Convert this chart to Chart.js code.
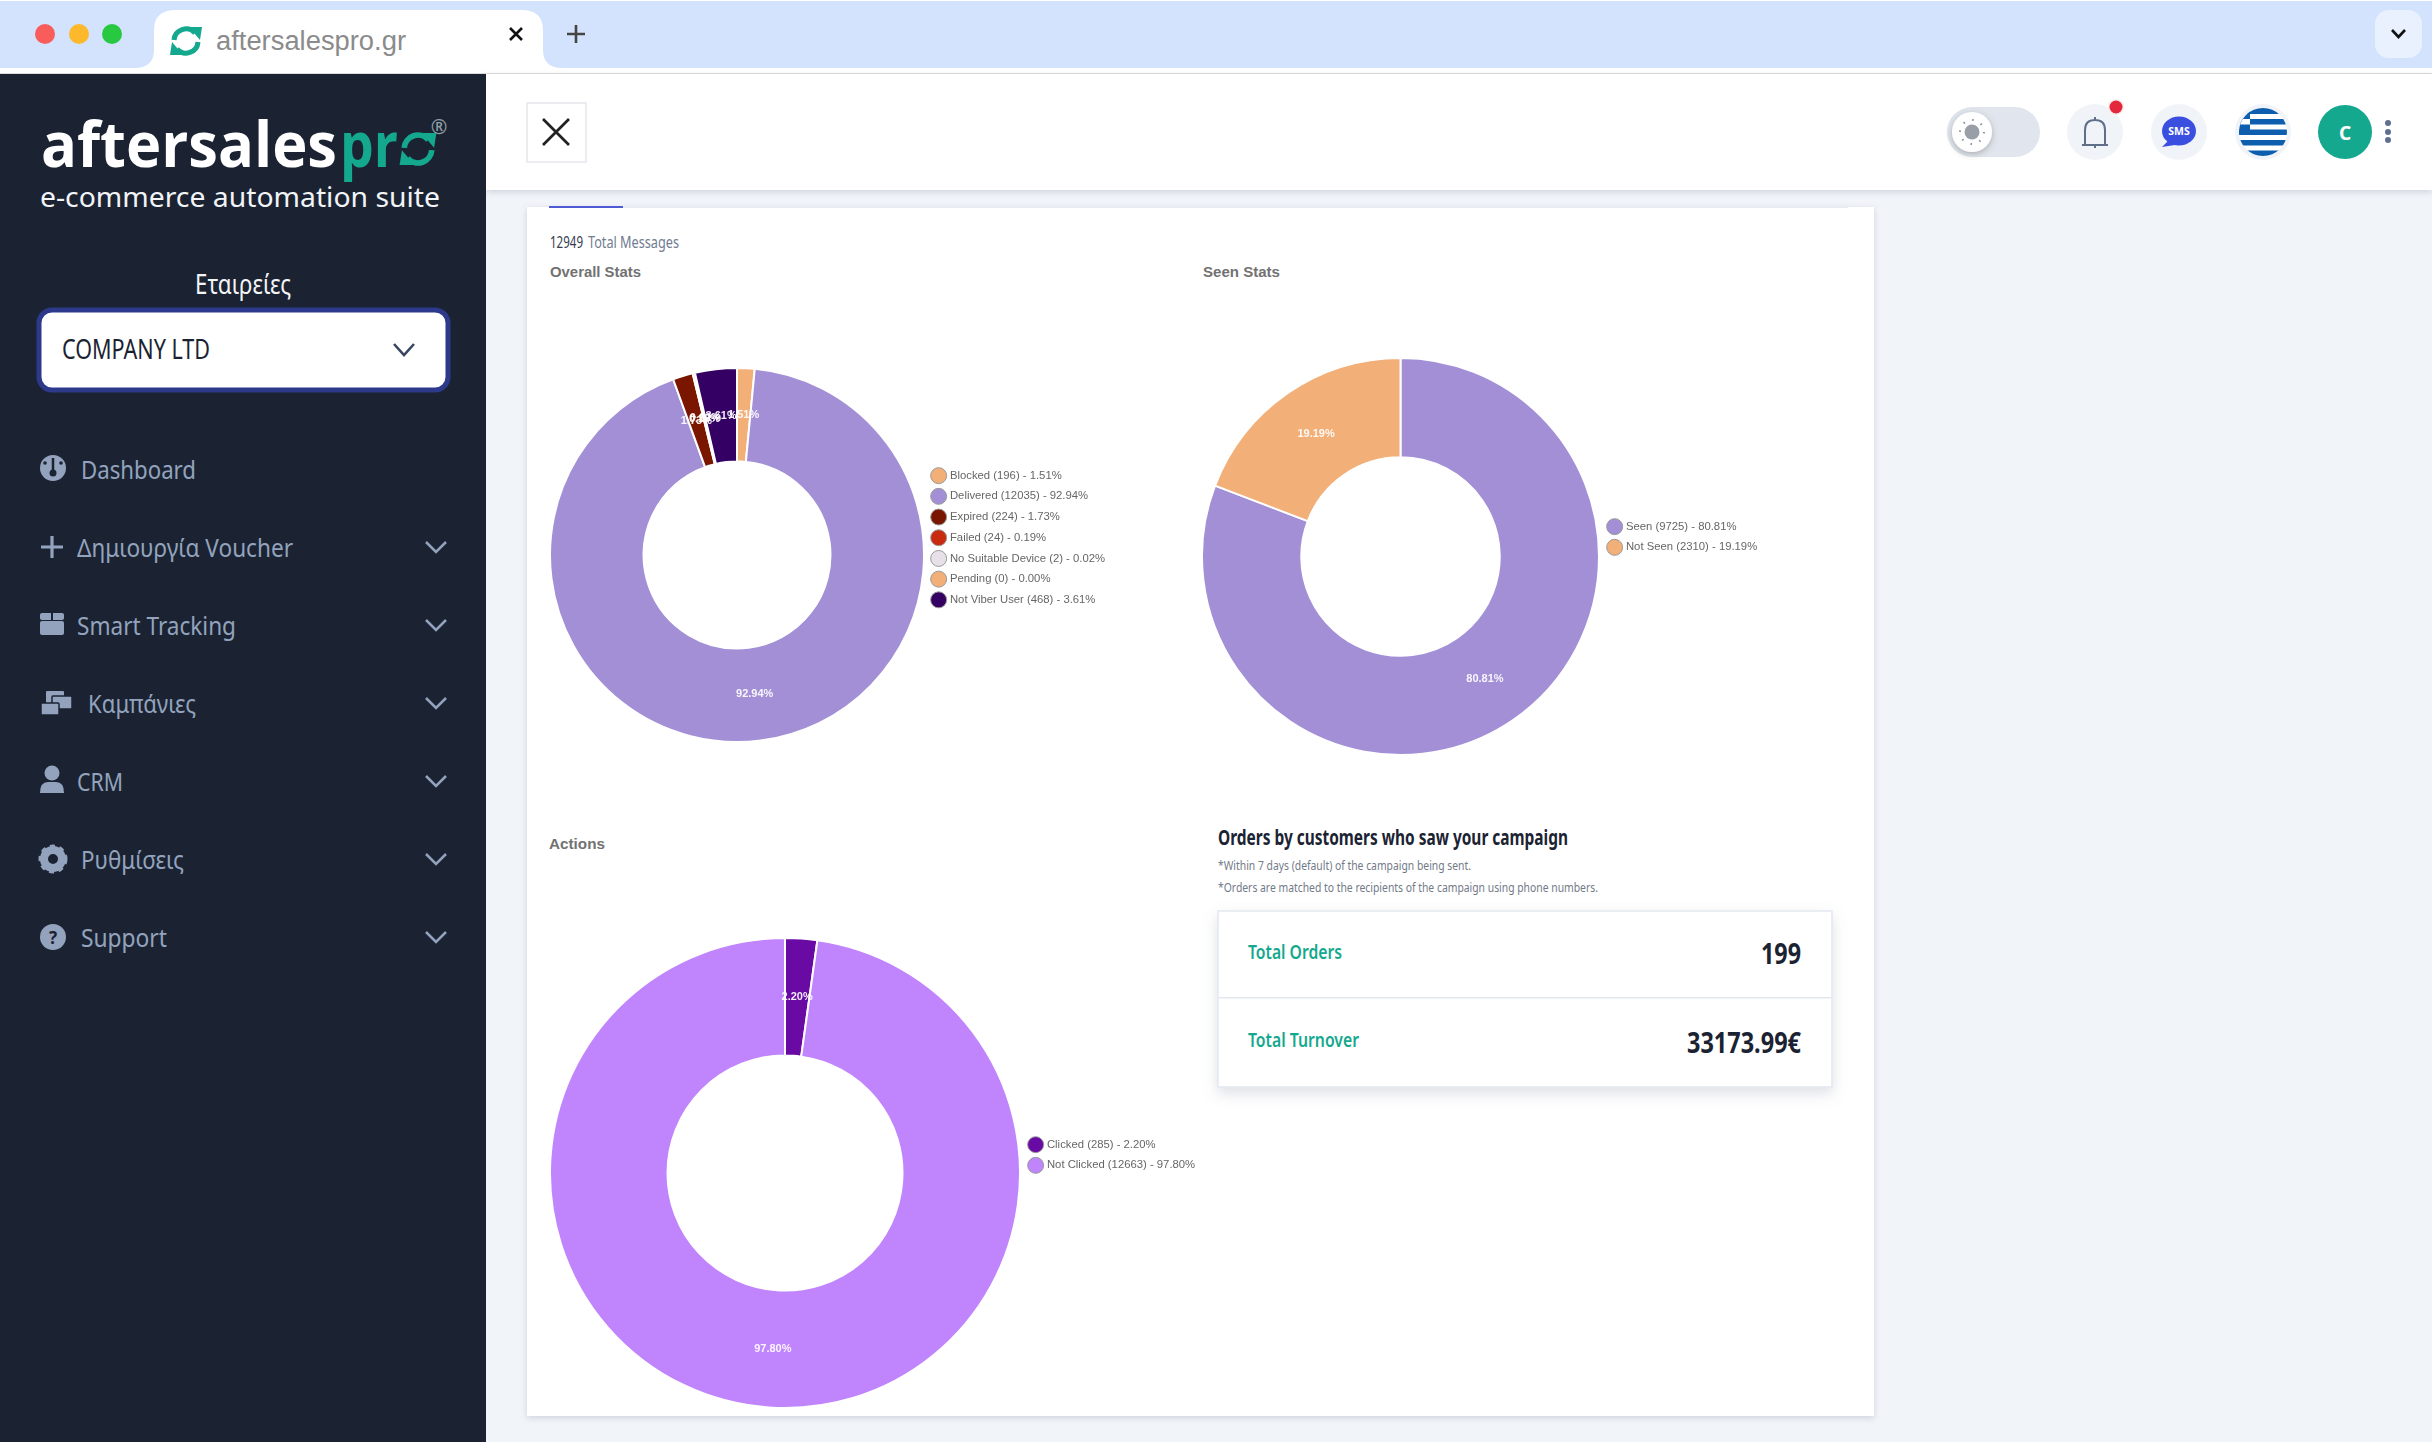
<!DOCTYPE html>
<html>
<head>
<meta charset="utf-8">
<title>aftersalespro.gr</title>
<script src="https://cdn.jsdelivr.net/npm/chart.js@4"></script>
<style>
  html, body { margin: 0; padding: 0; background: #f1f4f9; }
  #page { position: relative; width: 2432px; height: 1442px; overflow: hidden; }
  #chrome { position: absolute; left: 0; top: 0; }
  #chrome text { dominant-baseline: central; font-family: "Noto Sans", sans-serif; }
  #chrome .menu { font-size: 26px; fill: #93a3bd; }
  #chrome .arrow { fill: none; stroke: #93a3bd; stroke-width: 2.5; }
  canvas { position: absolute; filter: blur(0.5px); }
  #overallChart { left: 549px; top: 367px; }
  #seenChart { left: 1201px; top: 357px; }
  #actionsChart { left: 549px; top: 937px; }
</style>
</head>
<body>
<div id="page">
<svg id="chrome" width="2432" height="1442" viewBox="0 0 2432 1442">
  <defs>
    <filter id="soft" x="-10%" y="-10%" width="120%" height="125%"><feDropShadow dx="0" dy="2" stdDeviation="3" flood-color="#7a869a" flood-opacity="0.3"/></filter>
    <filter id="boxShadow" x="-10%" y="-10%" width="120%" height="130%"><feDropShadow dx="0" dy="6" stdDeviation="7" flood-color="#7a869a" flood-opacity="0.25"/></filter>
    <filter id="knob" x="-50%" y="-50%" width="200%" height="200%"><feDropShadow dx="0" dy="2" stdDeviation="3" flood-color="#555" flood-opacity="0.4"/></filter>
    <clipPath id="flagClip"><circle cx="2263" cy="132" r="24"/></clipPath>
    <g id="sync">
      <path d="M-12 -1 A12 12 0 0 1 9 -8" fill="none" stroke-width="5" stroke="currentColor"/>
      <path d="M3 -14 L16 -14 L14 -1 Z" fill="currentColor"/>
      <path d="M12 1 A12 12 0 0 1 -9 8" fill="none" stroke-width="5" stroke="currentColor"/>
      <path d="M-3 14 L-16 14 L-14 1 Z" fill="currentColor"/>
    </g>
  </defs>

  <!-- browser bar -->
  <rect x="0" y="0" width="2432" height="78" fill="#d3e3fd"/>
  <rect x="0" y="0" width="2432" height="1" fill="#fff"/>
  <rect x="0" y="68" width="2432" height="7" fill="#fff"/>
  <rect x="0" y="73" width="2432" height="1" fill="#dcdcdc"/>
  <circle cx="45" cy="34" r="10" fill="#f95d5b"/>
  <circle cx="79" cy="34" r="10" fill="#fdb82c"/>
  <circle cx="112" cy="34" r="10" fill="#28c940"/>
  <path d="M134 68 Q154 68 154 50 L154 30 Q154 10 176 10 L521 10 Q543 10 543 30 L543 50 Q543 68 563 68 Z" fill="#fff"/>
  <use href="#sync" x="186" y="41" color="#14a88e"/>
  <text x="216" y="41" font-size="27" textLength="190" lengthAdjust="spacingAndGlyphs" fill="#8b8b8b" style="font-family:'Liberation Sans'">aftersalespro.gr</text>
  <path d="M510 28 L522 40 M522 28 L510 40" stroke="#111" stroke-width="2.6"/>
  <path d="M576 25 L576 43 M567 34 L585 34" stroke="#444" stroke-width="2.6"/>
  <rect x="2375" y="10" width="47" height="48" rx="14" fill="#e9f1fe"/>
  <path d="M2392 30 L2398.500 37 L2405 30" fill="none" stroke="#111" stroke-width="2.6"/>

  <!-- top header -->
  <rect x="486" y="74" width="1946" height="116" fill="#fff" filter="url(#soft)"/>
  <rect x="527" y="103" width="59" height="59" fill="#fff" stroke="#e3e6ec" stroke-width="1.500"/>
  <path d="M543 119 L569 145 M569 119 L543 145" stroke="#222" stroke-width="2.800"/>

  <rect x="1947" y="107" width="93" height="50" rx="25" fill="#e1e6ee"/>
  <circle cx="1972" cy="132" r="20" fill="#fff" filter="url(#knob)"/>
  <circle cx="1972" cy="132" r="7.500" fill="#9a9ea6"/>
  <circle cx="1972" cy="132" r="12" fill="none" stroke="#8a8e96" stroke-width="2" stroke-dasharray="1.500 7.900"/>

  <circle cx="2095" cy="132" r="28" fill="#f0f4f9"/>
  <path d="M2085 145 L2085 130 Q2085 120 2095 120 Q2105 120 2105 130 L2105 145 M2082 145 L2108 145 M2095 117 L2095 120 M2095 145 L2095 148" fill="none" stroke="#5f6f8a" stroke-width="2"/>
  <circle cx="2116" cy="107" r="8" fill="#fdeaec"/><circle cx="2116" cy="107" r="6.500" fill="#e4283c"/>

  <circle cx="2179" cy="132" r="28" fill="#f0f4f9"/>
  <ellipse cx="2179" cy="131" rx="17" ry="14.500" fill="#3a4fe0"/>
  <path d="M2168 141 L2162 147 L2175 145 Z" fill="#3a4fe0"/>
  <text x="2179" y="131" font-size="10.500" font-weight="700" fill="#fff" text-anchor="middle">SMS</text>

  <circle cx="2263" cy="132" r="28" fill="#f0f4f9"/>
  <g clip-path="url(#flagClip)">
    <rect x="2239" y="108" width="48" height="48" fill="#fff"/>
    <rect x="2239" y="108" width="48" height="6" fill="#0d5eaf"/>
    <rect x="2239" y="119" width="48" height="5.500" fill="#0d5eaf"/>
    <rect x="2239" y="129.500" width="48" height="5.500" fill="#0d5eaf"/>
    <rect x="2239" y="140" width="48" height="5.500" fill="#0d5eaf"/>
    <rect x="2239" y="150.500" width="48" height="5.500" fill="#0d5eaf"/>
    <rect x="2239" y="108" width="11" height="27" fill="#0d5eaf"/>
    <rect x="2239" y="119" width="11" height="5.500" fill="#fff"/>
  </g>

  <circle cx="2345" cy="132" r="27" fill="#14a88e"/>
  <text x="2345" y="133" font-size="19" font-weight="700" fill="#fff" text-anchor="middle">C</text>
  <circle cx="2388" cy="123" r="3" fill="#5f6f8f"/><circle cx="2388" cy="132" r="3" fill="#5f6f8f"/><circle cx="2388" cy="140" r="3" fill="#5f6f8f"/>

  <!-- sidebar -->
  <rect x="0" y="74" width="486" height="1368" fill="#1b2333"/>
  <text x="41" y="143" font-size="62" font-weight="700" fill="#fff" textLength="296" lengthAdjust="spacingAndGlyphs" style="font-family:'Open Sans'">aftersales</text>
  <text x="340" y="143" font-size="62" font-weight="700" fill="#14a88e" textLength="58" lengthAdjust="spacingAndGlyphs" style="font-family:'Open Sans'">pr</text>
  <g transform="translate(418,149) scale(1.150)"><use href="#sync" color="#14a88e"/></g>
  <text x="439" y="126" font-size="20" fill="#8fa0a8" text-anchor="middle">®</text>
  <text x="40" y="195.500" font-size="28" fill="#f2f4f7" textLength="400" lengthAdjust="spacingAndGlyphs">e-commerce automation suite</text>
  <text x="243" y="283" font-size="27" fill="#f2f4f7" text-anchor="middle" textLength="96" lengthAdjust="spacingAndGlyphs">Εταιρείες</text>
  <rect x="39" y="310" width="409" height="80" rx="13" fill="#fff" stroke="#2d3a8c" stroke-width="5"/>
  <text x="62" y="348.500" font-size="27" fill="#1b2333" textLength="148" lengthAdjust="spacingAndGlyphs">COMPANY LTD</text>
  <path d="M394 344 L404 355 L414 344" fill="none" stroke="#3a4660" stroke-width="2.600"/>

  <circle cx="53" cy="468" r="13" fill="#93a3bd"/>
  <path d="M53 470 L53 458" stroke="#1b2333" stroke-width="2.500"/><circle cx="53" cy="473" r="3.500" fill="#1b2333"/><circle cx="45" cy="463" r="1.800" fill="#1b2333"/><circle cx="61" cy="463" r="1.800" fill="#1b2333"/>
  <text class="menu" x="81" y="468.500" textLength="115" lengthAdjust="spacingAndGlyphs">Dashboard</text>

  <path d="M41 547 L63 547 M52 536 L52 558" stroke="#93a3bd" stroke-width="3.200"/>
  <text class="menu" x="77" y="547" textLength="216" lengthAdjust="spacingAndGlyphs">Δημιουργία Voucher</text>
  <path class="arrow" d="M426 542 L436 552 L446 542"/>

  <rect x="40" y="613" width="24" height="7" rx="2" fill="#93a3bd"/><rect x="40" y="621" width="24" height="14" rx="2" fill="#93a3bd"/><rect x="51" y="610" width="2" height="10" fill="#1b2333"/>
  <text class="menu" x="77" y="625" textLength="159" lengthAdjust="spacingAndGlyphs">Smart Tracking</text>
  <path class="arrow" d="M426 620 L436 630 L446 620"/>

  <rect x="46" y="691" width="18" height="12" rx="1" fill="#93a3bd"/><rect x="52" y="696" width="20" height="13" rx="1" fill="#93a3bd" stroke="#1b2333" stroke-width="1.500"/><rect x="41" y="703" width="18" height="12" rx="1" fill="#93a3bd" stroke="#1b2333" stroke-width="1.500"/>
  <text class="menu" x="88" y="703" textLength="108" lengthAdjust="spacingAndGlyphs">Καμπάνιες</text>
  <path class="arrow" d="M426 698 L436 708 L446 698"/>

  <circle cx="52" cy="773" r="7.500" fill="#93a3bd"/><path d="M40 793 Q40 782 48 782 L56 782 Q64 782 64 793 Z" fill="#93a3bd"/>
  <text class="menu" x="77" y="780.500" textLength="46" lengthAdjust="spacingAndGlyphs">CRM</text>
  <path class="arrow" d="M426 776 L436 786 L446 776"/>

  <circle cx="53" cy="859" r="9" fill="none" stroke="#93a3bd" stroke-width="8"/><circle cx="53" cy="859" r="13" fill="none" stroke="#93a3bd" stroke-width="3" stroke-dasharray="5 4.630"/>
  <text class="menu" x="81" y="859" textLength="103" lengthAdjust="spacingAndGlyphs">Ρυθμίσεις</text>
  <path class="arrow" d="M426 854 L436 864 L446 854"/>

  <circle cx="53" cy="937" r="13" fill="#93a3bd"/>
  <text x="53" y="937" font-size="17" font-weight="700" fill="#1b2333" text-anchor="middle">?</text>
  <text class="menu" x="81" y="937" textLength="86" lengthAdjust="spacingAndGlyphs">Support</text>
  <path class="arrow" d="M426 932 L436 942 L446 932"/>

  <!-- report card -->
  <rect x="527" y="207" width="1347" height="1209" fill="#fff" filter="url(#soft)"/>
  <rect x="549" y="206" width="1299" height="2" fill="#e8ecf3"/>
  <rect x="549" y="206" width="74" height="2" fill="#4f5bd5"/>
  <text x="550" y="242" font-size="16" fill="#333c4d" textLength="33" lengthAdjust="spacingAndGlyphs">12949</text>
  <text x="588" y="242" font-size="16" fill="#717c92" textLength="91" lengthAdjust="spacingAndGlyphs">Total Messages</text>
  <text x="550" y="271" font-size="15" font-weight="700" fill="#727272" textLength="91" lengthAdjust="spacingAndGlyphs" style="font-family:'Liberation Sans'">Overall Stats</text>
  <text x="1203" y="271" font-size="15" font-weight="700" fill="#727272" textLength="77" lengthAdjust="spacingAndGlyphs" style="font-family:'Liberation Sans'">Seen Stats</text>
  <text x="549" y="843" font-size="15" font-weight="700" fill="#727272" textLength="56" lengthAdjust="spacingAndGlyphs" style="font-family:'Liberation Sans'">Actions</text>

  <text x="1218" y="837" font-size="21" font-weight="700" fill="#1b2333" textLength="350" lengthAdjust="spacingAndGlyphs">Orders by customers who saw your campaign</text>
  <text x="1218" y="864.500" font-size="13" fill="#727a88" textLength="253" lengthAdjust="spacingAndGlyphs">*Within 7 days (default) of the campaign being sent.</text>
  <text x="1218" y="887" font-size="13" fill="#727a88" textLength="380" lengthAdjust="spacingAndGlyphs">*Orders are matched to the recipients of the campaign using phone numbers.</text>
  <rect x="1218" y="911" width="614" height="176" fill="#fff" stroke="#e3e8f0" stroke-width="1.500" filter="url(#boxShadow)"/>
  <rect x="1218" y="997" width="614" height="1.500" fill="#e3e8f0"/>
  <text x="1248" y="951.500" font-size="20" font-weight="600" fill="#14a88e" textLength="94" lengthAdjust="spacingAndGlyphs">Total Orders</text>
  <text x="1248" y="1039" font-size="20" font-weight="600" fill="#14a88e" textLength="111" lengthAdjust="spacingAndGlyphs">Total Turnover</text>
  <text x="1761" y="952" font-size="29" font-weight="700" fill="#1b2333" textLength="40" lengthAdjust="spacingAndGlyphs">199</text>
  <text x="1687" y="1041" font-size="29" font-weight="700" fill="#1b2333" textLength="114" lengthAdjust="spacingAndGlyphs">33173.99€</text>
</svg>

<canvas id="overallChart" width="560" height="376"></canvas>
<canvas id="seenChart" width="570" height="399"></canvas>
<canvas id="actionsChart" width="660" height="472"></canvas>
</div>

<script>
const overallLabels = ['Blocked', 'Delivered', 'Expired', 'Failed', 'No Suitable Device', 'Pending', 'Not Viber User'];
const overallValues = [196, 12035, 224, 24, 2, 0, 468];
const overallColors = ['#f3af78', '#a28fd6', '#7a1500', '#c92b10', '#e8e0e8', '#f3af78', '#340063'];

const seenLabels = ['Seen', 'Not Seen'];
const seenValues = [9725, 2310];
const seenColors = ['#a28fd6', '#f3af78'];

const actionLabels = ['Clicked', 'Not Clicked'];
const actionValues = [285, 12663];
const actionColors = ['#6a0aa5', '#c084fc'];

function percent(values, i) {
  const total = values.reduce((a, b) => a + b, 0);
  return (values[i] / total * 100).toFixed(2) + '%';
}

// white percentage on every slice
const sliceLabels = {
  id: 'sliceLabels',
  afterDatasetsDraw(chart) {
    const ctx = chart.ctx;
    const values = chart.data.datasets[0].data;
    chart.getDatasetMeta(0).data.forEach((arc, i) => {
      if (!values[i]) return;
      const p = arc.tooltipPosition();
      ctx.save();
      ctx.font = 'bold 11px "Liberation Sans"';
      ctx.fillStyle = 'rgba(255,255,255,0.92)';
      ctx.textAlign = 'center';
      ctx.textBaseline = 'middle';
      ctx.fillText(percent(values, i), p.x, p.y);
      ctx.restore();
    });
  }
};

// donut sits at the left of the canvas, legend is put next to it
const placeLegend = {
  id: 'placeLegend',
  afterLayout(chart, args, opts) {
    const area = chart.chartArea;
    area.left = 0;
    area.right = chart.height;
    area.width = chart.height;
    const legend = chart.legend;
    legend.left = opts.x - legend.options.labels.padding;
    legend.top = opts.y - legend.options.labels.padding;
    legend.right = chart.width;
    legend.bottom = chart.height;
    legend.width = legend.right - legend.left;
    legend.height = legend.bottom - legend.top;
  }
};

function makeDonut(id, labels, values, colors, legendX, legendY) {
  return new Chart(document.getElementById(id), {
    type: 'doughnut',
    data: {
      labels: labels,
      datasets: [{ data: values, backgroundColor: colors, borderColor: '#fff', borderWidth: 2 }]
    },
    plugins: [sliceLabels, placeLegend],
    options: {
      responsive: false,
      animation: false,
      devicePixelRatio: 1,
      cutout: '50%',
      plugins: {
        tooltip: { enabled: false },
        placeLegend: { x: legendX, y: legendY },
        legend: {
          position: 'right',
          align: 'start',
          labels: {
            usePointStyle: true,
            font: { family: '"Liberation Sans"', size: 11.3 },
            color: '#666',
            padding: 9.4,
            generateLabels: () => labels.map((name, i) => ({
              text: name + ' (' + values[i] + ') - ' + percent(values, i),
              fillStyle: colors[i],
              strokeStyle: '#999',
              fontColor: '#666',
              lineWidth: 1,
              pointStyle: 'circle',
              hidden: false,
              index: i
            }))
          }
        }
      }
    }
  });
}

makeDonut('overallChart', overallLabels, overallValues, overallColors, 384, 103);
makeDonut('seenChart', seenLabels, seenValues, seenColors, 408, 164);
makeDonut('actionsChart', actionLabels, actionValues, actionColors, 481, 202);
</script>
</body>
</html>
